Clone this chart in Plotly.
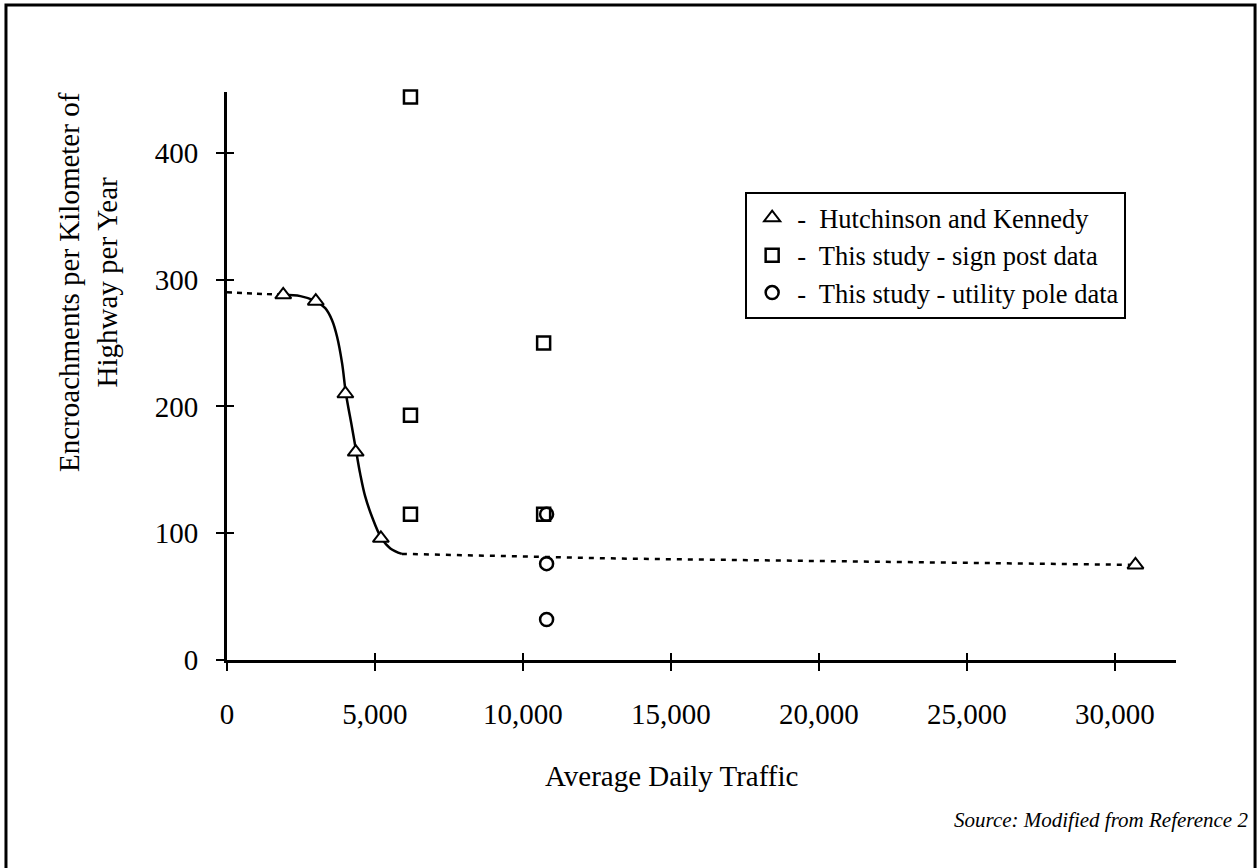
import plotly.graph_objects as go

# Hutchinson and Kennedy observations (ADT, encroachments/km/yr)
hk_adt = [1900, 3000, 4000, 4350, 5200, 30700]
hk_rate = [288, 283, 210, 164, 96, 75]

# This study - sign post data
sp_adt = [6200, 6200, 6200, 10700, 10700]
sp_rate = [444, 193, 115, 250, 115]

# This study - utility pole data
up_adt = [10800, 10800, 10800]
up_rate = [115, 76, 32]

# Trend line: dashed lead-in, solid S-curve, dashed tail
lead_adt = [0, 1900]
lead_rate = [290, 288]
curve_adt = [1900, 2480, 3000, 3320, 3550, 3720, 3890, 4020, 4220, 4370,
             4500, 4670, 4900, 5210, 5520, 5910]
curve_rate = [288, 287, 283, 277.5, 268, 255, 234, 210, 184, 164,
              147, 129, 113, 96.5, 88, 83.7]
tail_adt = [5910, 13300, 30700]
tail_rate = [83.7, 80, 75]

# Axis ticks
x_tickvals = [0, 5000, 10000, 15000, 20000, 25000, 30000]
x_ticktext = ["0", "5,000", "10,000", "15,000", "20,000", "25,000", "30,000"]
y_tickvals = [0, 100, 200, 300, 400]
y_ticktext = ["0", "100", "200", "300", "400"]

X_RANGE = [0, 32070]
Y_RANGE = [0, 448]
SERIF = "Liberation Serif, Times New Roman, serif"

fig = go.Figure()

fig.add_trace(go.Scatter(x=lead_adt, y=lead_rate, mode="lines",
                         line=dict(color="black", width=2.5, dash="5px,5px"),
                         showlegend=False, hoverinfo="skip"))
fig.add_trace(go.Scatter(x=curve_adt, y=curve_rate, mode="lines",
                         line=dict(color="black", width=2.5, shape="spline"),
                         showlegend=False, hoverinfo="skip"))
fig.add_trace(go.Scatter(x=tail_adt, y=tail_rate, mode="lines",
                         line=dict(color="black", width=2.5, dash="5px,6px"),
                         showlegend=False, hoverinfo="skip"))

fig.add_trace(go.Scatter(
    x=hk_adt, y=hk_rate, mode="markers", cliponaxis=False,
    name="-  Hutchinson and Kennedy",
    marker=dict(symbol="triangle-up", size=14, color="white",
                line=dict(color="black", width=2)),
))
fig.add_trace(go.Scatter(
    x=sp_adt, y=sp_rate, mode="markers", cliponaxis=False,
    name="-  This study - sign post data",
    marker=dict(symbol="square", size=13, color="rgba(0,0,0,0)",
                line=dict(color="black", width=2.5)),
))
fig.add_trace(go.Scatter(
    x=up_adt, y=up_rate, mode="markers", cliponaxis=False,
    name="-  This study - utility pole data",
    marker=dict(symbol="circle", size=13, color="rgba(0,0,0,0)",
                line=dict(color="black", width=2.5)),
))

# empty trace carrying the overlay axes that draw the inner half of each tick
fig.add_trace(go.Scatter(x=[], y=[], xaxis="x2", yaxis="y2",
                         showlegend=False, hoverinfo="skip"))

tick_font = dict(family=SERIF, size=29, color="black")

fig.update_layout(
    width=1260, height=868,
    margin=dict(l=227, r=84, t=92, b=208),
    paper_bgcolor="white", plot_bgcolor="white",
    font=dict(family=SERIF, color="black"),
    xaxis=dict(range=X_RANGE, tickvals=x_tickvals, ticktext=x_ticktext,
               ticks="outside", ticklen=8, tickwidth=2, tickcolor="black",
               showline=True, linecolor="black", linewidth=3,
               showgrid=False, zeroline=False, tickfont=tick_font,
               ticklabelstandoff=18),
    yaxis=dict(range=Y_RANGE, tickvals=y_tickvals, ticktext=y_ticktext,
               ticks="outside", ticklen=8, tickwidth=2, tickcolor="black",
               showline=True, linecolor="black", linewidth=3,
               showgrid=False, zeroline=False, tickfont=tick_font,
               ticklabelstandoff=12),
    xaxis2=dict(range=X_RANGE, tickvals=x_tickvals, overlaying="x",
                anchor="y", side="bottom", ticks="inside", ticklen=7,
                tickwidth=2, tickcolor="black", showticklabels=False,
                showline=False, showgrid=False, zeroline=False),
    yaxis2=dict(range=Y_RANGE, tickvals=y_tickvals, overlaying="y",
                anchor="x", side="left", ticks="inside", ticklen=7,
                tickwidth=2, tickcolor="black", showticklabels=False,
                showline=False, showgrid=False, zeroline=False),
    legend=dict(x=0.546, y=0.824, xanchor="left", yanchor="top",
                bgcolor="white", bordercolor="black", borderwidth=2,
                font=dict(family=SERIF, size=26.5, color="black"),
                itemwidth=40, tracegroupgap=0),
    showlegend=True,
)

# axis titles and source note
fig.add_annotation(text="Average Daily Traffic", xref="paper", yref="paper",
                   x=0.468, y=-0.204, xanchor="center", yanchor="middle",
                   showarrow=False, font=dict(family=SERIF, size=29))
fig.add_annotation(text="Encroachments per Kilometer of<br>Highway per Year",
                   xref="paper", yref="paper", x=-0.1465, y=0.6655,
                   xanchor="center", yanchor="middle", textangle=-90,
                   showarrow=False, font=dict(family=SERIF, size=29))
fig.add_annotation(text="Source: Modified from Reference 2",
                   xref="paper", yref="paper", x=1.078, y=-0.2817,
                   xanchor="right", yanchor="middle", showarrow=False,
                   font=dict(family=SERIF, size=21, style="italic"))

# frame around the whole figure
fig.add_shape(type="rect", xref="paper", yref="paper",
              x0=-0.2329, x1=1.0833, y0=-0.40, y1=1.1532,
              line=dict(color="black", width=3), layer="above")

fig.write_html("out.html")
